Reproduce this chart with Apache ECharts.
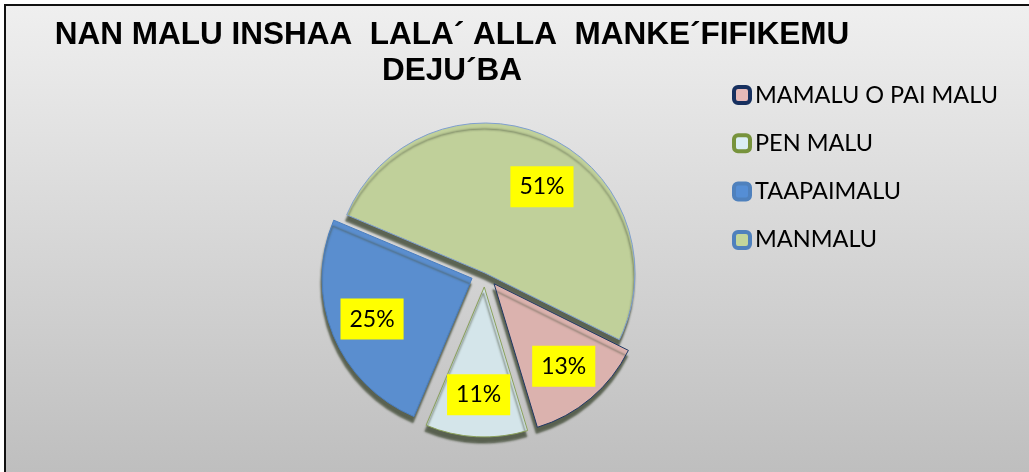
<!DOCTYPE html>
<html>
<head>
<meta charset="utf-8">
<script src="https://cdn.jsdelivr.net/npm/echarts@6/dist/echarts.min.js"></script>
<style>
html, body { margin: 0; padding: 0; background: #fff; overflow: hidden; }
#pie_chart {
    position: absolute;
    left: 4px;
    top: 4px;
    width: 1040px;
    height: 480px;
    border-left: 2px solid #111;
    border-top: 2px solid #111;
}
</style>
</head>
<body>
<div id="pie_chart"></div>
<script>
// 数据
const titleText = 'NAN MALU INSHAA  LALA\u00B4 ALLA  MANKE\u00B4FIFIKEMU\nDEJU\u00B4BA';
const categories = ['MAMALU O PAI MALU', 'PEN MALU', 'TAAPAIMALU', 'MANMALU'];
const values = [13, 11, 25, 51];

// 颜色: 扇区填充 / 边框
const fillColors = ['#dbb2ae', '#d4e5ea', '#5a8ecf', '#c0d09a'];
const borderColors = ['#1f3864', '#8aa05a', '#4a7ebf', '#7f9fcf'];
const legendFill = ['#e6b9b8', '#dbeef4', '#558ed5', '#c3d69b'];
const legendBorder = ['#17305f', '#77933c', '#4f81bd', '#4f81bd'];

let chartDom = document.getElementById('pie_chart');
let myChart = echarts.init(chartDom);
let option;

const pieData = categories.map((name, i) => ({
    name: name,
    value: values[i],
    selected: name !== 'MANMALU', // 分离的扇区
    itemStyle: {
        color: fillColors[i],
        borderColor: borderColors[i]
    }
}));

const labelData = categories.map((name, i) => ({
    name: name,
    value: values[i],
    selected: name !== 'MANMALU',
    label: name === 'MANMALU' ? { offset: [12, 12] } : {} // 大扇区标签稍微往下
}));

option = {
    backgroundColor: new echarts.graphic.LinearGradient(0, 0, 0, 1, [
        { offset: 0, color: '#efefef' },
        { offset: 1, color: '#bdbdbd' }
    ]),
    title: {
        text: titleText,
        left: 441,
        top: 6,
        textAlign: 'center',
        textStyle: {
            fontFamily: 'Liberation Sans',
            fontWeight: 'bold',
            fontSize: 31.5,
            lineHeight: 36,
            color: '#000'
        }
    },
    legend: {
        orient: 'vertical',
        left: 721,
        top: 72,
        itemWidth: 16,
        itemHeight: 16,
        itemGap: 24.3,
        icon: 'roundRect',
        selectedMode: false,
        textStyle: {
            fontFamily: 'Lato',
            fontSize: 23.5,
            color: '#000'
        },
        data: categories.map((name, i) => ({
            name: name,
            itemStyle: {
                color: legendFill[i],
                borderColor: legendBorder[i],
                borderWidth: 4
            }
        }))
    },
    series: [
        {
            name: 'pie',
            type: 'pie',
            center: [479, 267],
            radius: [0, 150],
            startAngle: -26.4,
            selectedMode: 'multiple',
            selectedOffset: 14,
            silent: true,
            label: { show: false },
            labelLine: { show: false },
            itemStyle: {
                borderWidth: 1,
                shadowColor: 'rgba(70, 80, 60, 0.85)',
                shadowBlur: 2,
                shadowOffsetX: -1,
                shadowOffsetY: 6
            },
            data: pieData
        },
        //百分比标签
        {
            name: 'labels',
            type: 'pie',
            center: [479, 267],
            radius: [60, 150],
            startAngle: -26.4,
            selectedMode: 'multiple',
            selectedOffset: 14,
            silent: true,
            z: 10,
            itemStyle: { color: 'rgba(0,0,0,0)' },
            labelLine: { show: false },
            label: {
                show: true,
                position: 'inside',
                formatter: '{c}%',
                fontFamily: 'Lato',
                fontSize: 23,
                color: '#000',
                backgroundColor: '#ffff00',
                padding: [10, 9, 8, 9]
            },
            data: labelData
        }
    ]
};

option && myChart.setOption(option);
</script>
</body>
</html>
